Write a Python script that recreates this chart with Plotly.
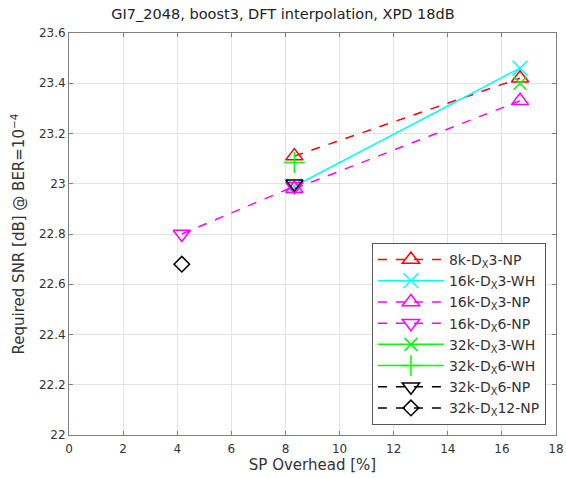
import plotly.graph_objects as go

# Data
names = ["8k-D<sub>X</sub>3-NP", "16k-D<sub>X</sub>3-WH", "16k-D<sub>X</sub>3-NP", "16k-D<sub>X</sub>6-NP",
         "32k-D<sub>X</sub>3-WH", "32k-D<sub>X</sub>6-WH", "32k-D<sub>X</sub>6-NP", "32k-D<sub>X</sub>12-NP"]
x_8k_dx3_np = [8.33, 16.67]
y_8k_dx3_np = [23.11, 23.42]
x_16k_dx3_wh = [8.33, 16.67]
y_16k_dx3_wh = [22.99, 23.46]
x_16k_dx3_np = [8.33, 16.67]
y_16k_dx3_np = [22.98, 23.33]
x_16k_dx6_np = [4.17, 8.33]
y_16k_dx6_np = [22.80, 22.99]
x_32k_dx3_wh = [16.67]
y_32k_dx3_wh = [23.40]
x_32k_dx6_wh = [8.33]
y_32k_dx6_wh = [23.085]
x_32k_dx6_np = [8.33]
y_32k_dx6_np = [23.00]
x_32k_dx12_np = [4.17]
y_32k_dx12_np = [22.68]

xs = [x_8k_dx3_np, x_16k_dx3_wh, x_16k_dx3_np, x_16k_dx6_np, x_32k_dx3_wh, x_32k_dx6_wh, x_32k_dx6_np, x_32k_dx12_np]
ys = [y_8k_dx3_np, y_16k_dx3_wh, y_16k_dx3_np, y_16k_dx6_np, y_32k_dx3_wh, y_32k_dx6_wh, y_32k_dx6_np, y_32k_dx12_np]
colors = ["#ff0000", "#00ffff", "#ff00ff", "#ff00ff", "#00ff00", "#00ff00", "#000000", "#000000"]
dashes = ["dash", "solid", "dash", "dash", "solid", "solid", "dash", "dash"]
symbols = ["triangle-up-open", "x-thin-open", "triangle-up-open", "triangle-down-open",
           "x-thin-open", "cross-thin-open", "triangle-down-open", "diamond-open"]
sizes = [15, 15, 15, 15, 13, 15, 15, 12]

fig = go.Figure()
for n, x, y, c, d, s, sz in zip(names, xs, ys, colors, dashes, symbols, sizes):
    fig.add_trace(go.Scatter(
        x=x, y=y, name=n, mode="lines+markers",
        line=dict(color=c, dash=d, width=1.5),
        marker=dict(symbol=s, size=sz, color=c, line=dict(color=c, width=1.5)),
    ))

axis_common = dict(
    showgrid=True, gridcolor="#e3e3e3", gridwidth=1,
    showline=True, linecolor="#808080", linewidth=1, mirror="ticks",
    ticks="inside", ticklen=4, tickcolor="#808080",
    zeroline=False, tickfont=dict(size=12, color="#333333"), automargin=False,
    ticklabeloverflow="allow",
)

fig.update_layout(
    width=566, height=478,
    margin=dict(l=69, r=10, t=33, b=43),
    paper_bgcolor="white", plot_bgcolor="white",
    font=dict(family="DejaVu Sans, sans-serif", size=12, color="#333333"),
    title=dict(text="GI7_2048, boost3, DFT interpolation, XPD 18dB", x=0.5, xanchor="center",
               y=0.982, yanchor="top", font=dict(size=14.5, color="#222222")),
    xaxis=dict(range=[0, 18], dtick=2, ticklabelstandoff=3,
               title=dict(text="SP Overhead [%]", standoff=4, font=dict(size=15)), **axis_common),
    yaxis=dict(range=[22, 23.6], dtick=0.2,
               title=dict(text="Required SNR [dB] @ BER=10<sup>−4</sup>", standoff=10, font=dict(size=15)), **axis_common),
    legend=dict(x=0.622, y=0.025, xanchor="left", yanchor="bottom",
                bordercolor="#555555", borderwidth=1, bgcolor="white",
                font=dict(size=14, color="#333333"), tracegroupgap=0, itemwidth=66),
    showlegend=True,
)

fig.write_html("out.html", config={"displayModeBar": False},
               post_script="document.body.style.margin='0';")
